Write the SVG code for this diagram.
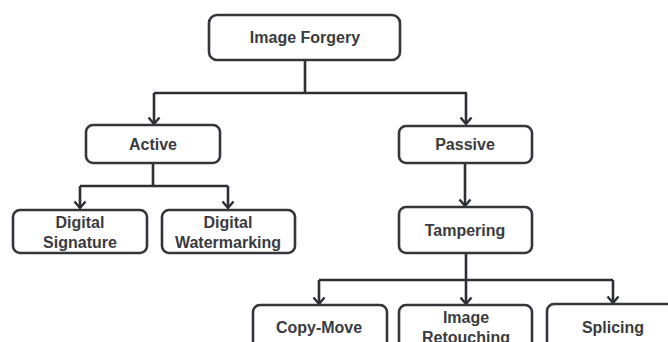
<svg xmlns="http://www.w3.org/2000/svg" width="668" height="342" viewBox="0 0 668 342">
<style>
.box{fill:#fff;stroke:#35363c;stroke-width:2.6}
.t{font-family:"Liberation Sans",Arial,sans-serif;font-weight:bold;font-size:16px;fill:#3a3b40;text-anchor:middle}
.c{fill:none;stroke:#2e2f35;stroke-width:2.6}
</style>
<defs>
<marker id="ah" markerWidth="12" markerHeight="14" viewBox="0 0 12 14" refX="10" refY="7" orient="auto" markerUnits="userSpaceOnUse">
<polyline points="3.5,1.5 10,7 3.5,12.5" fill="none" stroke="#2e2f35" stroke-width="2.4"/>
</marker>
</defs>
<rect width="668" height="342" fill="#fff"/>
<g id="connectors">
<path class="c" d="M305,60 V93 M154,93 H467"/>
<path class="c" d="M154,93 V124" marker-end="url(#ah)"/>
<path class="c" d="M466,93 V124" marker-end="url(#ah)"/>
<path class="c" d="M153,163 V186 M80,186 H228"/>
<path class="c" d="M80,186 V208" marker-end="url(#ah)"/>
<path class="c" d="M228,186 V208" marker-end="url(#ah)"/>
<path class="c" d="M465,163 V206" marker-end="url(#ah)"/>
<path class="c" d="M466,253 V280 M319,280 H613"/>
<path class="c" d="M319,280 V304" marker-end="url(#ah)"/>
<path class="c" d="M466,280 V304" marker-end="url(#ah)"/>
<path class="c" d="M613,280 V303" marker-end="url(#ah)"/>
</g>
<g id="image-forgery">
<rect class="box" x="209" y="15" width="191" height="45" rx="8"/>
<text class="t" x="305" y="43">Image Forgery</text>
</g>
<g id="active">
<rect class="box" x="86" y="125" width="134" height="38" rx="7"/>
<text class="t" x="153" y="150">Active</text>
</g>
<g id="passive">
<rect class="box" x="399" y="126" width="133" height="37" rx="7"/>
<text class="t" x="465" y="150">Passive</text>
</g>
<g id="digital-signature">
<rect class="box" x="13" y="210" width="134" height="43" rx="7"/>
<text class="t" x="80" y="228">Digital</text>
<text class="t" x="80" y="248">Signature</text>
</g>
<g id="digital-watermarking">
<rect class="box" x="162" y="210" width="133" height="43" rx="7"/>
<text class="t" x="228" y="228">Digital</text>
<text class="t" x="228" y="248">Watermarking</text>
</g>
<g id="tampering">
<rect class="box" x="399" y="207" width="133" height="46" rx="7"/>
<text class="t" x="465" y="236">Tampering</text>
</g>
<g id="copy-move">
<rect class="box" x="253" y="305" width="134" height="48" rx="7"/>
<text class="t" x="319" y="333">Copy-Move</text>
</g>
<g id="image-retouching">
<rect class="box" x="399" y="305" width="133" height="48" rx="7"/>
<text class="t" x="466" y="323">Image</text>
<text class="t" x="466" y="343">Retouching</text>
</g>
<g id="splicing">
<rect class="box" x="547" y="304" width="133" height="49" rx="7"/>
<text class="t" x="613" y="333">Splicing</text>
</g>
</svg>
